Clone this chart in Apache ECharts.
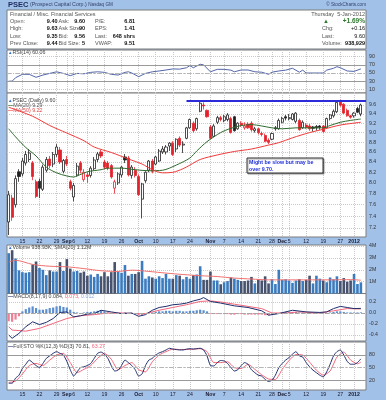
<!DOCTYPE html>
<html><head><meta charset="utf-8">
<script src="https://cdn.jsdelivr.net/npm/echarts@6/dist/echarts.min.js"></script>
<style>html,body{margin:0;padding:0;background:#a2c1e8;}#c{width:386px;height:400px;}</style>
</head><body><div id="c"></div>
<script>
// ---------------- DATA ----------------
const dates = [
'2011-08-09','2011-08-10','2011-08-11','2011-08-12','2011-08-15','2011-08-16','2011-08-17','2011-08-18','2011-08-19','2011-08-22',
'2011-08-23','2011-08-24','2011-08-25','2011-08-26','2011-08-29','2011-08-30','2011-08-31','2011-09-01','2011-09-02','2011-09-06',
'2011-09-07','2011-09-08','2011-09-09','2011-09-12','2011-09-13','2011-09-14','2011-09-15','2011-09-16','2011-09-19','2011-09-20',
'2011-09-21','2011-09-22','2011-09-23','2011-09-26','2011-09-27','2011-09-28','2011-09-29','2011-09-30','2011-10-03','2011-10-04',
'2011-10-05','2011-10-06','2011-10-07','2011-10-10','2011-10-11','2011-10-12','2011-10-13','2011-10-14','2011-10-17','2011-10-18',
'2011-10-19','2011-10-20','2011-10-21','2011-10-24','2011-10-25','2011-10-26','2011-10-27','2011-10-28','2011-10-31','2011-11-01',
'2011-11-02','2011-11-03','2011-11-04','2011-11-07','2011-11-08','2011-11-09','2011-11-10','2011-11-11','2011-11-14','2011-11-15',
'2011-11-16','2011-11-17','2011-11-18','2011-11-21','2011-11-22','2011-11-23','2011-11-25','2011-11-28','2011-11-29','2011-11-30',
'2011-12-01','2011-12-02','2011-12-05','2011-12-06','2011-12-07','2011-12-08','2011-12-09','2011-12-12','2011-12-13','2011-12-14',
'2011-12-15','2011-12-16','2011-12-19','2011-12-20','2011-12-21','2011-12-22','2011-12-23','2011-12-27','2011-12-28','2011-12-29',
'2011-12-30','2012-01-03','2012-01-04','2012-01-05'];

const opens = [7.30,7.72,7.60,8.21,8.17,8.38,8.45,8.38,8.02,8.03,
7.88,8.24,8.46,8.36,8.55,8.64,8.22,8.45,8.02,7.74,
8.15,8.38,8.06,8.15,8.14,8.27,8.45,8.60,8.40,8.38,
8.33,7.90,8.00,8.15,8.50,8.48,8.14,8.24,8.12,7.70,
8.04,8.24,8.42,8.36,8.42,8.60,8.60,8.72,8.78,8.66,
8.88,8.74,8.88,9.10,9.20,9.08,9.46,9.60,9.48,9.12,
8.92,9.22,9.32,9.26,9.28,9.30,9.34,9.08,9.20,9.10,
9.18,9.20,9.04,9.08,8.98,8.94,8.84,8.86,9.10,9.08,
9.22,9.34,9.30,9.28,9.24,9.26,9.10,9.16,9.14,9.12,
9.13,9.14,9.14,9.10,9.30,9.36,9.45,9.68,9.62,9.48,
9.36,9.36,9.52,9.40];
const highs = [7.85,7.78,8.14,8.26,8.48,8.62,8.66,8.42,8.06,8.08,
8.35,8.50,8.52,8.60,8.76,8.70,8.46,8.52,8.06,8.00,
8.38,8.42,8.26,8.20,8.32,8.50,8.60,8.64,8.44,8.42,
8.36,8.06,8.20,8.32,8.56,8.52,8.34,8.30,8.16,8.00,
8.22,8.44,8.46,8.52,8.66,8.72,8.74,8.80,8.82,8.88,
8.92,8.82,9.12,9.30,9.24,9.32,9.70,9.66,9.50,9.16,
9.18,9.36,9.36,9.38,9.42,9.34,9.36,9.22,9.24,9.22,
9.22,9.24,9.12,9.10,9.02,8.98,8.88,9.00,9.14,9.30,
9.34,9.38,9.40,9.42,9.44,9.30,9.26,9.20,9.18,9.14,
9.16,9.16,9.16,9.32,9.40,9.50,9.68,9.72,9.64,9.52,
9.38,9.44,9.56,9.63];
const lows = [7.08,7.32,7.55,8.02,8.12,8.33,8.40,8.05,7.72,7.72,
7.85,8.20,8.28,8.30,8.50,8.36,8.18,8.32,7.86,7.66,
8.12,8.18,8.02,8.00,8.10,8.24,8.40,8.48,8.26,8.24,
8.08,7.80,7.96,8.10,8.38,8.12,8.08,8.10,7.76,7.36,
8.00,8.20,8.18,8.34,8.40,8.56,8.55,8.62,8.52,8.60,
8.70,8.58,8.86,9.08,9.00,9.04,9.44,9.50,9.32,8.86,
8.90,9.18,9.24,9.22,9.24,8.98,9.02,9.06,9.12,9.06,
9.08,9.02,9.00,8.96,8.92,8.80,8.76,8.84,9.04,9.06,
9.20,9.26,9.26,9.26,9.20,9.04,9.08,9.08,9.04,9.02,
9.04,9.06,9.00,9.08,9.26,9.32,9.42,9.56,9.40,9.34,
9.30,9.32,9.42,9.35];
const closes = [7.78,7.38,8.08,8.12,8.42,8.55,8.58,8.12,7.75,7.90,
8.30,8.45,8.33,8.55,8.70,8.40,8.43,8.36,7.90,7.95,
8.32,8.24,8.20,8.12,8.28,8.44,8.56,8.52,8.30,8.28,
8.11,8.02,8.17,8.30,8.44,8.15,8.30,8.14,7.78,7.98,
8.20,8.42,8.22,8.50,8.62,8.66,8.70,8.78,8.55,8.86,
8.74,8.76,9.10,9.28,9.04,9.30,9.64,9.58,9.34,8.88,
9.14,9.32,9.28,9.34,9.38,9.00,9.04,9.20,9.16,9.14,
9.10,9.06,9.08,9.00,8.96,8.82,8.80,8.98,9.08,9.26,
9.30,9.31,9.32,9.40,9.42,9.06,9.22,9.11,9.08,9.09,
9.10,9.11,9.02,9.30,9.38,9.46,9.66,9.60,9.42,9.36,
9.33,9.42,9.44,9.60];
// volume in millions of shares
const volumes = [3.4,3.65,2.95,1.95,1.8,1.75,1.8,2.45,2.7,2.15,
2.0,1.55,1.95,1.85,1.85,2.65,1.9,2.9,2.1,1.85,
1.9,1.75,1.85,1.5,1.6,1.4,1.65,1.45,1.8,1.45,
1.8,2.65,1.85,1.75,2.4,1.5,1.65,1.65,1.8,2.75,
1.25,1.45,1.35,1.25,1.45,1.3,1.65,1.25,1.25,1.55,
1.5,1.2,1.4,1.25,1.55,1.6,2.3,1.15,1.15,1.85,
1.1,1.1,0.78,0.95,1.05,1.35,1.25,1.15,1.05,1.05,
1.1,1.4,0.85,1.2,1.1,1.45,0.85,1.2,0.8,2.0,
1.15,1.2,1.1,0.9,1.1,1.2,1.05,1.15,1.5,0.85,
1.5,1.25,1.1,0.95,1.35,1.2,1.45,1.05,1.3,1.0,
1.1,1.65,0.8,0.94];
// indicator lines: [bar index, value]
const ma20 = [[0,9.08],[2,8.91],[5,8.69],[8,8.52],[11,8.30],[14,8.19],[17,8.13],[19,8.11],[20,8.13],[23,8.21],[27,8.25],[29,8.28],[33,8.28],[37,8.25],[41,8.23],[45,8.24],[49,8.34],[53,8.48],[55,8.62],[58,8.81],[62,9.0],[65,9.09],[68,9.15],[71,9.17],[74,9.14],[77,9.10],[80,9.08],[84,9.10],[88,9.10],[92,9.10],[94,9.15],[97,9.22],[100,9.26],[103,9.29]];
const ma50 = [[0,9.55],[7,9.35],[12,9.15],[17,8.99],[22,8.83],[25,8.70],[30,8.59],[35,8.46],[39,8.36],[42,8.25],[45,8.19],[48,8.20],[51,8.27],[53,8.34],[56,8.45],[61,8.54],[66,8.61],[71,8.66],[76,8.74],[79,8.79],[83,8.89],[88,9.0],[92,9.07],[97,9.16],[103,9.22]];
const volSma = [[0,2.65],[2,2.8],[7,2.45],[12,2.3],[17,2.25],[22,2.1],[27,1.92],[32,1.86],[36,1.97],[41,1.86],[46,1.72],[51,1.6],[56,1.5],[61,1.43],[66,1.3],[71,1.22],[76,1.15],[80,1.15],[85,1.15],[90,1.15],[95,1.15],[100,1.17],[103,1.12]];
const rsi = [[0,30],[1,30],[2,38.5],[4,46.8],[6,46.8],[8,39.5],[10,45],[12,49],[14,53],[16,49],[18,43.6],[20,49],[22,48],[24,51.6],[26,53],[28,51.6],[30,46.8],[32,45],[34,51.6],[35,53],[36,50],[38,41],[40,49],[42,53],[44,55],[46,57.4],[48,60],[50,59.5],[52,63],[53,68],[54,63],[56,71.4],[57,70],[59,53],[61,59],[63,59],[65,57],[66,53],[68,57.4],[70,57.4],[72,53],[74,52],[76,46.8],[77,52],[79,55],[81,57],[83,61.6],[85,52],[86,57],[87,50],[89,50],[91,50],[92,50],[93,57],[95,61.6],[96,65.5],[97,63],[99,55],[101,54],[103,60.06]];
const macd = [[0,-0.40],[1,-0.46],[3,-0.37],[5,-0.25],[7,-0.16],[9,-0.21],[11,-0.17],[13,-0.10],[15,0.01],[17,0.02],[19,-0.07],[21,-0.05],[23,-0.02],[25,-0.01],[27,0.05],[30,0.02],[33,-0.01],[36,0.0],[38,-0.06],[40,-0.03],[42,0.05],[44,0.10],[46,0.12],[48,0.15],[50,0.16],[52,0.18],[54,0.22],[56,0.25],[57,0.28],[59,0.21],[62,0.18],[66,0.13],[70,0.10],[74,0.04],[76,-0.04],[79,-0.01],[83,0.05],[87,0.02],[91,0.01],[93,0.02],[95,0.08],[97,0.12],[99,0.10],[101,0.08],[103,0.084]];
const signal = [[0,-0.25],[1,-0.31],[5,-0.33],[9,-0.28],[13,-0.19],[17,-0.10],[21,-0.05],[25,-0.03],[29,0.0],[33,0.0],[37,-0.01],[40,-0.01],[44,0.05],[48,0.10],[52,0.15],[56,0.21],[59,0.22],[62,0.20],[66,0.16],[70,0.12],[74,0.08],[77,0.0],[81,0.0],[85,0.02],[91,0.0],[95,0.04],[99,0.08],[103,0.073]];
const hist = [-0.15,-0.16,-0.12,-0.06,0.03,0.07,0.10,0.12,0.09,0.06,
0.06,0.07,0.09,0.10,0.12,0.13,0.11,0.10,0.06,0.02,
0.01,0.0,0.01,0.02,0.02,0.03,0.04,0.04,0.03,0.01,
0.0,-0.01,-0.01,0.0,0.01,0.0,-0.01,-0.02,-0.04,-0.04,
-0.02,0.0,0.01,0.02,0.03,0.03,0.04,0.04,0.03,0.04,
0.04,0.03,0.03,0.04,0.04,0.05,0.06,0.05,0.03,-0.01,
-0.02,-0.02,-0.02,-0.02,-0.02,-0.03,-0.03,-0.02,-0.02,-0.03,
-0.03,-0.03,-0.03,-0.03,-0.03,-0.04,-0.04,-0.03,-0.02,0.0,
0.01,0.02,0.02,0.02,0.02,0.01,0.01,0.0,0.0,-0.01,
-0.01,-0.01,-0.01,0.0,0.01,0.02,0.03,0.03,0.02,0.01,
0.01,0.01,0.01,0.012];
const stoK = [[0,13],[1,13],[2,25],[3,32],[4,48],[5,58],[6,68],[7,62],[8,55],[9,50],[10,60],[11,72],[12,78],[13,84],[14,88],[15,84],[16,80],[17,65],[18,45],[19,30],[20,40],[21,50],[22,52],[23,55],[24,60],[25,72],[26,84],[27,87],[28,82],[29,72],[30,55],[31,42],[32,44],[33,55],[34,68],[35,62],[36,55],[37,45],[38,30],[39,35],[40,55],[41,68],[42,72],[43,80],[44,85],[45,88],[46,92],[47,96],[48,94],[49,93],[50,92],[51,92],[52,94],[53,95],[54,94],[55,95],[56,96],[57,92],[58,78],[59,55],[60,54],[61,62],[62,67],[63,66],[64,60],[65,50],[66,42],[67,45],[68,55],[69,62],[70,58],[71,45],[72,38],[73,32],[74,30],[75,22],[76,17],[77,20],[78,32],[79,50],[80,60],[81,68],[82,74],[83,82],[84,88],[85,78],[86,75],[87,62],[88,52],[89,44],[90,38],[91,32],[92,28],[93,40],[94,58],[95,78],[96,88],[97,92],[98,80],[99,65],[100,58],[101,58],[102,62],[103,70.81]];
const stoD = [[0,15],[2,18],[4,35],[6,55],[8,60],[10,55],[12,68],[14,80],[16,84],[18,62],[20,38],[22,46],[24,55],[26,72],[28,84],[30,70],[32,45],[34,55],[36,62],[38,45],[40,40],[42,64],[44,80],[46,88],[48,94],[50,93],[52,93],[54,94],[56,95],[58,88],[60,62],[62,62],[64,64],[66,50],[68,48],[70,58],[72,46],[74,33],[76,23],[78,22],[80,46],[82,67],[84,81],[86,80],[88,63],[90,44],[92,32],[94,42],[96,75],[98,87],[100,68],[102,59],[103,63.27]];
// tick labels: [bar index, text]
const dateTicks = [[4,'15'],[9,'22'],[14,'29'],[17,'Sep'],[19,'6'],[23,'12'],[28,'19'],[33,'26'],[38,'Oct'],[43,'10'],[48,'17'],[53,'24'],[59,'Nov'],[63,'7'],[68,'14'],[73,'21'],[77,'28'],[80,'Dec'],[82,'5'],[87,'12'],[92,'19'],[97,'27'],[101,'2012']];
const monthTicks = ['Sep','Oct','Nov','Dec','2012'];
const priceTicks = [7.2,7.4,7.6,7.8,8.0,8.2,8.4,8.6,8.8,9.0,9.2,9.4,9.6];
const rsiTicks = [10,30,50,70,90];
const volTicks = [1,2,3,4];
const macdTicks = [-0.4,-0.2,0.0,0.2];
const stoTicks = [20,50,80];
const trendLevel = 9.70, trendFrom = 52;

// ---------------- CHART ----------------
const chart = echarts.init(document.getElementById('c'), null, {renderer:'canvas', width:386, height:400});
const FF = '"Liberation Sans", Arial, sans-serif';
const XMIN = -0.5, XMAX = 104.5;
const tickIdx = dateTicks.map(d => d[0]);
const tickMap = {}; dateTicks.forEach(d => tickMap[d[0]] = d[1]);
const ln = Math.log;
const RED = '#e3232c', BLK = '#222222';
const GRIDC = '#c9c9c9';

const gridsDef = [
  {top:50, height:43},       // RSI
  {top:93, height:144},      // price
  {top:245, height:48.5},    // volume
  {top:293.5, height:47.5},  // MACD
  {top:342, height:48}       // STO
];
const grid = gridsDef.map(g => ({left:7, width:359, top:g.top, height:g.height, show:true,
  backgroundColor:'#ffffff', borderColor:'#7d7d7d', borderWidth:1, containLabel:false}));

function xAx(gi, labels){
  return {type:'value', gridIndex:gi, min:XMIN, max:XMAX,
    axisLine:{show:false}, axisTick:{show:false, customValues:tickIdx},
    axisLabel:{show:labels, customValues:tickIdx, margin:2, fontSize:5.2, fontFamily:FF, color:'#1a1a2e',
      formatter: v => { const t = tickMap[Math.round(v)]; return monthTicks.includes(t) ? '{b|'+t+'}' : t; },
      rich:{b:{fontWeight:'bold', fontSize:5.2, fontFamily:FF, color:'#1a1a2e'}}},
    splitLine:{show:true, lineStyle:{color:GRIDC, width:1, type:[1,1]}}};
}
function yAx(gi, min, max, ticks, fmt){
  return {type:'value', gridIndex:gi, position:'right', min, max, scale:true,
    axisLine:{show:false}, axisTick:{show:false, customValues:ticks},
    axisLabel:{customValues:ticks, formatter:fmt, margin:3, fontSize:5.2, fontFamily:FF, color:'#333'},
    splitLine:{show:true, lineStyle:{color:GRIDC, width:1, type:[1,1]}}};
}
const xAxis = [xAx(0,false), xAx(1,true), xAx(2,false), xAx(3,false), xAx(4,true)];
const yAxis = [
  yAx(0, 1.0, 106.4, rsiTicks, v => String(Math.round(v))),
  yAx(1, ln(7.047), ln(9.874), priceTicks.map(ln), v => Math.exp(v).toFixed(1)),
  yAx(2, 0, 4.09, volTicks, v => Math.round(v)+'M'),
  yAx(3, -0.509, 0.3545, macdTicks, v => v.toFixed(1)),
  yAx(4, -3.1, 110.9, stoTicks, v => String(Math.round(v)))
];

function hline(val, color, type){ return {yAxis:val, lineStyle:{color, type, width:1}}; }
const mlBase = {silent:true, symbol:['none','none'], label:{show:false}, animation:false};

const candleData = opens.map((o,i) => {
  const c = closes[i], pc = i > 0 ? closes[i-1] : o;
  const col = c < pc ? RED : BLK;
  const fill = c >= o ? '#ffffff' : col;
  return {value:[i, ln(o), ln(c), ln(lows[i]), ln(highs[i])],
    itemStyle:{color:fill, color0:fill, borderColor:col, borderColor0:col}};
});
const volData = volumes.map((v,i) => {
  const up = i === 0 ? closes[0] >= opens[0] : closes[i] >= closes[i-1];
  return {value:[i, v], itemStyle:{color: up ? '#3b7bbf' : '#46526e'}};
});
const histData = hist.map((h,i) => ({value:[i,h], itemStyle:{color: h < 0 ? '#ef7f95' : '#5b8fd0'}}));
const lnPts = a => a.map(p => [p[0], ln(p[1])]);

const series = [
  {type:'line', xAxisIndex:0, yAxisIndex:0, data:rsi, symbol:'none', lineStyle:{color:'#5366a8', width:1},
   markLine:Object.assign({}, mlBase, {data:[hline(70,'#9a9a9a','solid'), hline(30,'#9a9a9a','solid'), hline(50,'#b5b5b5',[4,2,1,2])]})},
  {type:'candlestick', xAxisIndex:1, yAxisIndex:1, data:candleData, barWidth:2.6, itemStyle:{borderWidth:0.8}},
  {type:'line', xAxisIndex:1, yAxisIndex:1, data:lnPts(ma20), symbol:'none', smooth:0.3, lineStyle:{color:'#2e6b2e', width:1},
   markLine:Object.assign({}, mlBase, {lineStyle:{color:'#2b2bd9', width:2, type:'solid'},
     data:[[{coord:[trendFrom, ln(trendLevel)]},{coord:[XMAX, ln(trendLevel)]}]]})},
  {type:'line', xAxisIndex:1, yAxisIndex:1, data:lnPts(ma50), symbol:'none', smooth:0.3, lineStyle:{color:'#f03a3a', width:1}},
  {type:'bar', xAxisIndex:2, yAxisIndex:2, data:volData, barWidth:2.6},
  {type:'line', xAxisIndex:2, yAxisIndex:2, data:volSma, symbol:'none', smooth:0.3, lineStyle:{color:'#f07070', width:1}},
  {type:'bar', xAxisIndex:3, yAxisIndex:3, data:histData, barWidth:2.2,
   markLine:Object.assign({}, mlBase, {data:[hline(0,'#a8a8a8',[4,2])]})},
  {type:'line', xAxisIndex:3, yAxisIndex:3, data:signal, symbol:'none', lineStyle:{color:'#f4677c', width:1}},
  {type:'line', xAxisIndex:3, yAxisIndex:3, data:macd, symbol:'none', lineStyle:{color:'#1f2f6e', width:1}},
  {type:'line', xAxisIndex:4, yAxisIndex:4, data:stoD, symbol:'none', smooth:0.2, lineStyle:{color:'#f4677c', width:1},
   markLine:Object.assign({}, mlBase, {data:[hline(80,'#9a9a9a','solid'), hline(20,'#9a9a9a','solid'), hline(50,'#b5b5b5',[4,2,1,2])]})},
  {type:'line', xAxisIndex:4, yAxisIndex:4, data:stoK, symbol:'none', smooth:0.2, lineStyle:{color:'#1f2f6e', width:1}}
];

// ---------------- TEXT ----------------
function T(x, y, text, o){
  o = o || {};
  const st = {text, x, y, fill:o.fill||'#3a3a3a', font:(o.bold?'bold ':'')+(o.size||5.5)+'px '+FF,
    align:o.align||'left', verticalAlign:'middle'};
  if (o.rich) st.rich = o.rich;
  return {type:'text', silent:true, z:100, style:st};
}
const last = a => a[a.length-1];
const lastP = a => a[a.length-1][1];
const chg = closes[closes.length-1] - closes[closes.length-2];
const pct = chg / closes[closes.length-2] * 100;
const rowsY = [14, 21, 28.5, 36, 43.3];
const info = [
  ['Open:', opens[103].toFixed(2), 'Ask:', '9.60', 'P/E:', '6.81'],
  ['High:', highs[103].toFixed(2), 'Ask Size:', '90', 'EPS:', '1.41'],
  ['Low:', lows[103].toFixed(2), 'Bid:', '9.56', 'Last:', '648 shrs'],
  ['Prev Close:', closes[102].toFixed(2), 'Bid Size:', '5', 'VWAP:', '9.51']
];
const g = [
  {type:'rect', shape:{x:7, y:10, width:359, height:39}, style:{fill:'#fff', stroke:'#7d7d7d', lineWidth:1}, silent:true, z:90},
  T(8, 5, '{a|PSEC} {b|(Prospect Capital Corp.)} {c|Nasdaq GM}', {rich:{
    a:{fill:'#1b2a5c', font:'bold 7.5px '+FF}, b:{fill:'#33406a', font:'5.3px '+FF}, c:{fill:'#33406a', font:'4.6px '+FF}}}),
  T(366, 5, '© StockCharts.com', {size:4.6, fill:'#33406a', align:'right'}),
  T(10, rowsY[0], 'Financial / Misc. Financial Services', {fill:'#555'}),
  T(365, rowsY[0], 'Thursday  5-Jan-2012', {fill:'#555', align:'right'}),
  T(323, rowsY[1], '▲', {fill:'#2d7a2d', size:6}),
  T(365, rowsY[1], '+' + pct.toFixed(2) + '%', {fill:'#2d7a2d', bold:true, size:6.5, align:'right'}),
  T(322, rowsY[2], 'Chg:', {fill:'#555'}), T(365, rowsY[2], '+' + chg.toFixed(2), {align:'right', fill:'#111'}),
  T(322, rowsY[3], 'Last:', {fill:'#555'}), T(365, rowsY[3], closes[103].toFixed(2), {align:'right', fill:'#111'}),
  T(322, rowsY[4], 'Volume:', {fill:'#555'}), T(365, rowsY[4], '938,929', {align:'right', fill:'#111', bold:true}),
  // panel legends
  T(8, 53, '{i|▲}{t|RSI(14) ' + lastP(rsi).toFixed(2) + '}', {rich:{i:{fill:'#3b6fc0', font:'4.5px '+FF}, t:{fill:'#444', font:'5.3px '+FF}}}),
  T(8, 100.5, '{i|▲}{t|PSEC (Daily) ' + closes[103].toFixed(2) + '}', {rich:{i:{fill:'#3b6fc0', font:'4.5px '+FF}, t:{fill:'#444', font:'5.3px '+FF}}}),
  T(8, 105.8, '{i|—}{t|MA(20) ' + lastP(ma20).toFixed(2) + '}', {rich:{i:{fill:'#2e6b2e', font:'bold 5.3px '+FF}, t:{fill:'#555', font:'5.3px '+FF}}}),
  T(8, 111, '{i|—}{t|MA(50) ' + lastP(ma50).toFixed(2) + '}', {rich:{i:{fill:'#f03a3a', font:'bold 5.3px '+FF}, t:{fill:'#e04848', font:'5.3px '+FF}}}),
  T(8, 247.5, '{i|▲}{t|Volume 938.93K, SMA(20) ' + lastP(volSma).toFixed(2) + 'M}', {rich:{i:{fill:'#3b6fc0', font:'4.5px '+FF}, t:{fill:'#444', font:'5.3px '+FF}}}),
  T(8, 297, '{i|—}{a|MACD(8,17,9) ' + lastP(macd).toFixed(3) + ', }{b|' + lastP(signal).toFixed(3) + ', }{c|' + last(hist).toFixed(3) + '}',
    {rich:{i:{fill:'#1f2f6e', font:'bold 5.3px '+FF}, a:{fill:'#444', font:'5.3px '+FF}, b:{fill:'#f4677c', font:'5.3px '+FF}, c:{fill:'#8aa6dd', font:'5.3px '+FF}}}),
  T(8, 346.5, '{i|—}{a|Full STO %K(12,3) %D(3) ' + lastP(stoK).toFixed(2) + ', }{b|' + lastP(stoD).toFixed(2) + '}',
    {rich:{i:{fill:'#1f2f6e', font:'bold 5.3px '+FF}, a:{fill:'#444', font:'5.3px '+FF}, b:{fill:'#f4677c', font:'5.3px '+FF}}}),
  // annotation
  {type:'rect', shape:{x:247, y:158, width:76, height:15}, style:{fill:'#fff', stroke:'#333', lineWidth:1, shadowColor:'rgba(0,0,0,0.35)', shadowOffsetX:1, shadowOffsetY:1, shadowBlur:1}, silent:true, z:95},
  {type:'text', silent:true, z:100, style:{text:'Might be slow but may be\nover 9.70.', x:249, y:159.5, fill:'#1f2fd8', font:'bold 5.3px '+FF, lineHeight:6.8, align:'left', verticalAlign:'top'}}
];
// info rows
info.forEach((r, k) => {
  const y = rowsY[k+1];
  g.push(T(10, y, r[0], {fill:'#555'}), T(57.5, y, r[1], {bold:true, fill:'#111', align:'right'}),
         T(58.5, y, r[2], {fill:'#555'}), T(85, y, r[3], {bold:true, fill:'#111', align:'right'}),
         T(95, y, r[4], {fill:'#555'}), T(135, y, r[5], {bold:true, fill:'#111', align:'right'}));
});

chart.setOption({animation:false, backgroundColor:'#a2c1e8', grid, xAxis, yAxis, series, graphic:{elements:g}});
</script></body></html>
